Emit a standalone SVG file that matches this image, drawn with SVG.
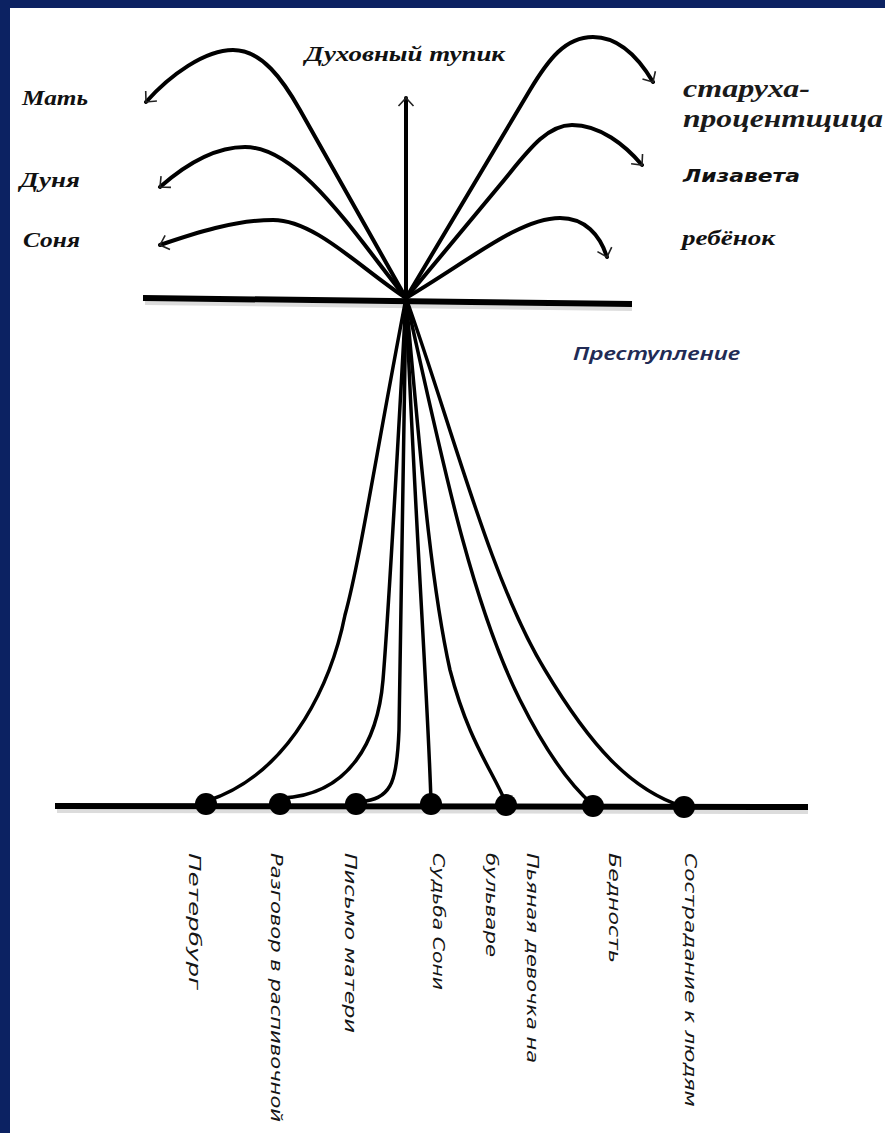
<svg xmlns="http://www.w3.org/2000/svg" width="885" height="1133" viewBox="0 0 885 1133">
<style>
.bg{fill:#0c2262}
.paper{fill:#ffffff}
.curve{fill:none;stroke:#000;stroke-width:4;stroke-linecap:round}
.fun{fill:none;stroke:#000;stroke-width:3.5;stroke-linecap:round}
.axis{fill:none;stroke:#000;stroke-width:6;stroke-linecap:butt}
.shadow{fill:none;stroke:#dcdcdc;stroke-width:4}
.dot{fill:#000}
.ser{font-family:"Liberation Serif","Times New Roman",serif;font-style:italic;font-weight:bold;fill:#111}
.ser2{font-family:"Liberation Serif","Times New Roman",serif;font-style:italic;font-weight:bold;fill:#1a1a1a}
.sans{font-family:"DejaVu Sans","Liberation Sans",sans-serif;font-style:italic;fill:#111}
.crime{font-family:"Noto Sans","Open Sans",sans-serif;font-style:italic;font-weight:600;font-size:18px;fill:#222b55}
.lbl{font-family:"DejaVu Sans","Liberation Sans",sans-serif;font-style:italic;font-size:16px;fill:#151515}
</style>
<defs>
<marker id="ah" markerUnits="userSpaceOnUse" viewBox="-12 -12 24 24" markerWidth="24" markerHeight="24" refX="0" refY="0" orient="auto">
<path d="M-8,-7.5 L0,0 L-8,7.5" fill="none" stroke="#222" stroke-width="1.6"/>
</marker>
</defs>
<rect class="bg" x="0" y="0" width="885" height="1133"/>
<rect class="paper" x="10" y="8" width="875" height="1125"/>

<g id="connectors">
<line class="shadow" x1="145" y1="303" x2="632" y2="309"/>
<line class="axis" x1="143" y1="298" x2="632" y2="304"/>
<line class="shadow" x1="57" y1="811" x2="808" y2="812"/>
<line class="axis" x1="55" y1="806" x2="808" y2="807"/>
<!-- upper fan -->
<path class="curve" d="M406,298 L406,98" marker-end="url(#ah)"/>
<path class="curve" d="M406,298 L300,110 C283,80 262,50 233,50 C205,50 170,75 146,102" marker-end="url(#ah)"/>
<path class="curve" d="M406,298 C355,235 300,147 245,147 C215,147 185,165 160,187" marker-end="url(#ah)"/>
<path class="curve" d="M406,298 C360,268 315,220 273,220 C235,220 195,233 160,245" marker-end="url(#ah)"/>
<path class="curve" d="M406,298 L530,90 C548,60 565,37 593,37 C620,37 640,60 653,82" marker-end="url(#ah)"/>
<path class="curve" d="M406,298 L500,185 C525,155 545,125 572,125 C600,125 625,145 642,165" marker-end="url(#ah)"/>
<path class="curve" d="M406,298 C470,260 520,218 560,218 C585,218 600,235 607,257" marker-end="url(#ah)"/>
<!-- lower funnel -->
<path class="fun" d="M406,298 C375,460 360,560 345,615 C333,675 295,772 207,801"/>
<path class="fun" d="M406,298 C396,480 388,620 383,680 C378,740 350,795 282,798"/>
<path class="fun" d="M406,298 C403,500 401,650 399,730 C397,780 392,797 366,801"/>
<path class="fun" d="M406,298 C415,520 428,700 431,802"/>
<path class="fun" d="M406,298 C420,450 430,580 450,670 C468,740 492,770 506,803"/>
<path class="fun" d="M406,298 C440,450 470,600 520,700 C545,750 570,785 593,805"/>
<path class="fun" d="M406,298 C450,420 490,580 545,670 C590,745 630,790 684,807"/>
</g>

<g id="dots">
<circle id="d1" class="dot" cx="206" cy="804" r="11"/>
<circle id="d2" class="dot" cx="280" cy="804" r="11"/>
<circle id="d3" class="dot" cx="356" cy="804" r="11"/>
<circle id="d4" class="dot" cx="431" cy="804" r="11"/>
<circle id="d5" class="dot" cx="506" cy="805" r="11"/>
<circle id="d6" class="dot" cx="593" cy="806" r="11"/>
<circle id="d7" class="dot" cx="684" cy="807" r="11"/>
</g>

<g id="top-labels">
<text id="t-tupik" class="ser" x="305" y="61" font-size="20" textLength="200" lengthAdjust="spacingAndGlyphs">Духовный тупик</text>
<text id="t-mat" class="ser" x="22" y="105" font-size="22" textLength="66" lengthAdjust="spacingAndGlyphs">Мать</text>
<text id="t-dunya" class="ser" x="20" y="187" font-size="22" textLength="60" lengthAdjust="spacingAndGlyphs">Дуня</text>
<text id="t-sonya" class="ser" x="23" y="247" font-size="22" textLength="57" lengthAdjust="spacingAndGlyphs">Соня</text>
<text id="t-staruha" class="ser2" x="683" y="97" font-size="26" textLength="127" lengthAdjust="spacingAndGlyphs">старуха-</text>
<text id="t-procent" class="ser2" x="683" y="127" font-size="26" textLength="200" lengthAdjust="spacingAndGlyphs">процентщица</text>
<text id="t-lizaveta" class="sans" x="683" y="182" font-size="18" font-weight="bold" textLength="117" lengthAdjust="spacingAndGlyphs">Лизавета</text>
<text id="t-rebenok" class="ser" x="682" y="245" font-size="21" textLength="93" lengthAdjust="spacingAndGlyphs">ребёнок</text>
<text id="t-crime" class="crime" x="573" y="360" textLength="167" lengthAdjust="spacingAndGlyphs">Преступление</text>
</g>

<g id="bottom-labels">
<text id="l1" class="lbl" transform="translate(189,853) rotate(90)" textLength="137" lengthAdjust="spacingAndGlyphs">Петербург</text>
<text id="l2" class="lbl" transform="translate(271,853) rotate(90)" textLength="269" lengthAdjust="spacingAndGlyphs">Разговор в распивочной</text>
<text id="l3" class="lbl" transform="translate(345,853) rotate(90)" textLength="180" lengthAdjust="spacingAndGlyphs">Письмо матери</text>
<text id="l4" class="lbl" transform="translate(433,853) rotate(90)" textLength="137" lengthAdjust="spacingAndGlyphs">Судьба Сони</text>
<text id="l5" class="lbl" transform="translate(527,853) rotate(90)" textLength="210" lengthAdjust="spacingAndGlyphs">Пьяная девочка на</text>
<text id="l5b" class="lbl" transform="translate(486,853) rotate(90)" textLength="104" lengthAdjust="spacingAndGlyphs">бульваре</text>
<text id="l6" class="lbl" transform="translate(609,853) rotate(90)" textLength="110" lengthAdjust="spacingAndGlyphs">Бедность</text>
<text id="l7" class="lbl" transform="translate(685,853) rotate(90)" textLength="254" lengthAdjust="spacingAndGlyphs">Сострадание к людям</text>
</g>
</svg>
